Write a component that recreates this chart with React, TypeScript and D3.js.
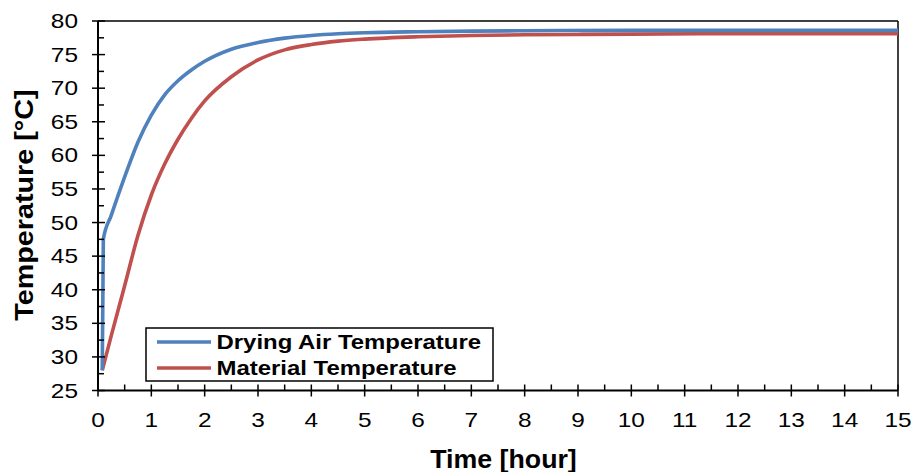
import React from "react";
import * as d3 from "d3";

const airTime = [0.08, 0.1, 0.25, 0.5, 0.75, 1.0, 1.25, 1.5, 1.75, 2.0, 2.5, 3.0, 3.5, 4.0, 4.5, 5.0, 6.0, 7.0, 8.0, 10.0, 12.0, 15.0];
const airTemp = [28, 47.5, 51.1, 56.8, 62.0, 66.0, 69.0, 71.1, 72.7, 74.0, 75.8, 76.8, 77.45, 77.85, 78.1, 78.25, 78.4, 78.5, 78.55, 78.6, 78.6, 78.6];

const matTime = [0.08, 0.25, 0.5, 0.75, 1.0, 1.25, 1.5, 1.75, 2.0, 2.5, 3.0, 3.5, 4.0, 4.5, 5.0, 6.0, 7.0, 8.0, 9.0, 10.0, 12.0, 15.0];
const matTemp = [28, 33.2, 40.6, 48.1, 54.1, 58.7, 62.4, 65.5, 68.1, 71.7, 74.2, 75.7, 76.5, 77.0, 77.3, 77.65, 77.85, 77.95, 78.0, 78.05, 78.1, 78.1];

const xTicks = d3.range(0, 16, 1);
const yTicks = d3.range(25, 81, 5);
const seriesNames = ["Drying Air Temperature", "Material Temperature"];
const seriesColors = ["#4F81BD", "#C0504D"];
const xTitle = "Time [hour]";
const yTitle = "Temperature [°C]";

function SText(props: { x: number; y: number; sx: number; rot?: number; size: number; bold?: boolean; anchor?: string; dy?: string; children: React.ReactNode }) {
  const { x, y, sx, rot = 0, size, bold, anchor = "start", dy, children } = props;
  return (
    <text
      transform={`translate(${x},${y}) rotate(${rot}) scale(${sx},1)`}
      fontSize={size}
      fontWeight={bold ? "bold" : "normal"}
      textAnchor={anchor}
      dy={dy}
    >
      {children}
    </text>
  );
}

export default function App() {
  const W = 914, H = 472;
  const left = 98, right = 898, top = 21, bottom = 390.5;
  const x = d3.scaleLinear().domain([0, 15]).range([left, right]);
  const y = d3.scaleLinear().domain([25, 80]).range([bottom, top]);
  const line = d3.line<[number, number]>().x(d => x(d[0])).y(d => y(d[1])).curve(d3.curveMonotoneX);
  const air: [number, number][] = airTime.map((t, i) => [t, airTemp[i]]);
  const mat: [number, number][] = matTime.map((t, i) => [t, matTemp[i]]);
  const font = "'Liberation Sans', Arial, sans-serif";
  const xMinor = d3.range(0.5, 15, 1);
  const yMinor = d3.range(27.5, 80, 5);
  return (
    <svg width={W} height={H} style={{ position: "absolute", left: 0, top: 0 }} fontFamily={font}>
      <rect x={0} y={0} width={W} height={H} fill="white" />
      <line x1={left} x2={right} y1={top} y2={top} stroke="black" strokeWidth={1.5} />
      <line x1={right} x2={right} y1={top} y2={bottom} stroke="black" strokeWidth={1.5} />
      <path d={line(mat) || ""} fill="none" stroke={seriesColors[1]} strokeWidth={3.6} />
      <path d={line(air) || ""} fill="none" stroke={seriesColors[0]} strokeWidth={3.6} />
      <line x1={left} x2={left} y1={top} y2={bottom} stroke="black" strokeWidth={2} />
      <line x1={left} x2={right} y1={bottom} y2={bottom} stroke="black" strokeWidth={2} />
      {yTicks.map(v => (
        <g key={"y" + v}>
          <line x1={left - 6} x2={left + 7} y1={y(v)} y2={y(v)} stroke="black" strokeWidth={1.5} />
          <SText x={left - 20} y={y(v)} sx={1.22} size={20} anchor="end" dy="0.35em">{v}</SText>
        </g>
      ))}
      {yMinor.map(v => (
        <line key={"ym" + v} x1={left} x2={left + 6} y1={y(v)} y2={y(v)} stroke="black" strokeWidth={1.5} />
      ))}
      {xTicks.map(v => (
        <g key={"x" + v}>
          <line x1={x(v)} x2={x(v)} y1={bottom - 6} y2={bottom + 6} stroke="black" strokeWidth={1.5} />
          <SText x={x(v)} y={bottom + 36.5} sx={1.22} size={20} anchor="middle">{v}</SText>
        </g>
      ))}
      {xMinor.map(v => (
        <line key={"xm" + v} x1={x(v)} x2={x(v)} y1={bottom - 6} y2={bottom} stroke="black" strokeWidth={1.5} />
      ))}
      <SText x={503.5} y={468} sx={1.07} size={25} bold anchor="middle">{xTitle}</SText>
      <SText x={33} y={205} rot={-90} sx={1.15} size={25} bold anchor="middle">{yTitle}</SText>
      <rect x={146} y={328} width={347} height={53} fill="white" stroke="black" strokeWidth={1.5} />
      {seriesNames.map((n, i) => (
        <g key={n}>
          <line x1={157} x2={211} y1={342 + i * 26} y2={342 + i * 26} stroke={seriesColors[i]} strokeWidth={3.6} />
          <SText x={216.5} y={348.5 + i * 26} sx={1.14} size={21} bold>{n}</SText>
        </g>
      ))}
    </svg>
  );
}
